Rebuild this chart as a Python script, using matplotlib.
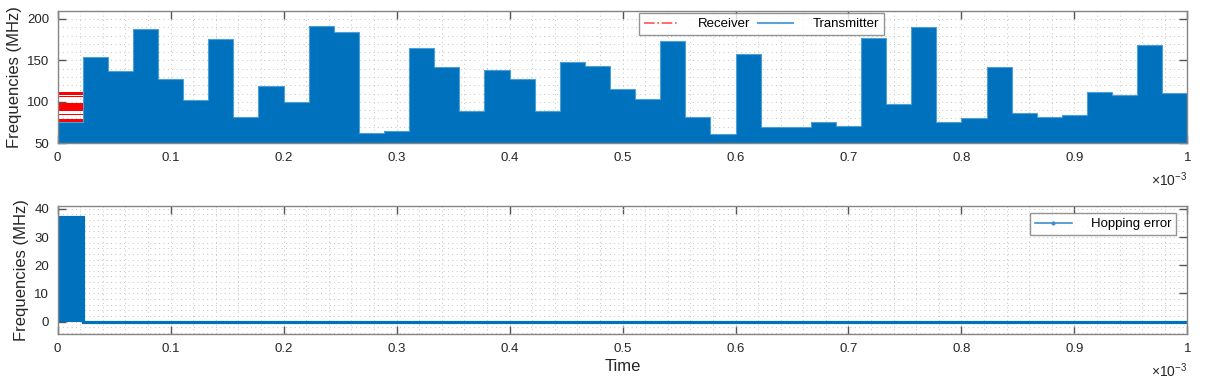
#!python3

"""
Frequency hopping: transmitter vs receiver frequencies and hopping error
45 hops over 1 ms
"""

import matplotlib
matplotlib.use('Agg')
import matplotlib.pyplot as plt
from matplotlib.lines import Line2D
from matplotlib.ticker import MultipleLocator, FuncFormatter
import numpy as np

plt.rcParams['font.family'] = ['Liberation Sans', 'DejaVu Sans']
plt.rcParams['mathtext.fontset'] = 'custom'
plt.rcParams['mathtext.rm'] = 'Liberation Sans'
plt.rcParams['mathtext.default'] = 'regular'

T_total = 1e-3    # s
n_hops = 45
t_hop = T_total / n_hops
edges = np.arange(n_hops + 1) * t_hop

# transmitter hop frequencies (MHz)
tx_freq = [76, 154.4, 137, 187.9, 127.7, 102.8, 175.4, 81.7, 119.7, 100,
           191.9, 184.7, 62.4, 64.8, 165.3, 141.5, 88.6, 138.7, 127.7, 88.6,
           147.6, 143.1, 114.9, 104, 173.7, 81.7, 60.8, 157.2, 69.2, 70,
           75.7, 70.4, 176.6, 97.9, 190.7, 75.7, 80.5, 141.5, 87, 81.7,
           84.6, 111.3, 108.4, 168.2, 110.8]

# receiver frequency bands seen during first hop (MHz)
rx_bands = [(108, 112), (105.5, 106.5), (89, 98.7), (83.8, 85.8), (76.1, 79.8)]

# hopping error (MHz)
hop_err = [37] + [0] * (n_hops - 1)

blue = '#0072BD'
blue_lt = '#4D9FD8'
red = '#FF0000'
txtc = '#262626'
axc = '#858585'

fig = plt.figure(figsize=(12.06, 3.88), dpi=100)
ax1 = fig.add_axes([0.0478, 0.6307, 0.9368, 0.3418])
ax2 = fig.add_axes([0.0478, 0.1384, 0.9368, 0.3314])


def style(ax):
    ax.set_axisbelow(True)
    ax.set_xlim(0, T_total)
    ax.xaxis.set_major_locator(MultipleLocator(1e-4))
    ax.xaxis.set_minor_locator(MultipleLocator(2e-5))
    ax.xaxis.set_major_formatter(FuncFormatter(lambda v, p: f'{v * 1e3:g}'))
    ax.tick_params(which='major', direction='in', length=5.5, width=1,
                   top=True, right=True, colors='#555555', labelcolor=txtc,
                   labelsize=9.5, pad=6)
    ax.tick_params(which='minor', length=0, top=True, right=True)
    ax.grid(which='both', color='#c4c4c4', linestyle=(0, (1, 3.5)), linewidth=0.7)
    for s in ax.spines.values():
        s.set_color(axc)
        s.set_linewidth(1)
    ax.set_ylabel('Frequencies (MHz)', fontsize=12, color=txtc, labelpad=4)
    ax.annotate(r'$\times10^{-3}$', xy=(1, 0), xycoords='axes fraction',
                xytext=(0, -26), textcoords='offset points',
                ha='right', va='center', fontsize=10, color=txtc)


# top: transmitter / receiver
ax1.stairs(tx_freq, edges, baseline=50, fill=True, color=blue)
ax1.stairs(tx_freq, edges, baseline=None, color=blue_lt, linewidth=0.8)
for lo, hi in rx_bands:
    ax1.fill_between([edges[0], edges[1]], lo, hi, color=red, linewidth=0)
ax1.set_ylim(50, 210)
ax1.yaxis.set_major_locator(MultipleLocator(50))
ax1.yaxis.set_minor_locator(MultipleLocator(10))
style(ax1)
h_rx = Line2D([], [], color='#FF5555', linestyle='-.', linewidth=1.2)
h_tx = Line2D([], [], color='#5BA3DA', linestyle='-', linewidth=1.5)
leg1 = ax1.legend([h_rx, h_tx], ['Receiver', 'Transmitter'], ncol=2,
                  loc='upper left', bbox_to_anchor=(0.515, 0.98), borderaxespad=0,
                  fontsize=9.5, handlelength=2.65, handletextpad=1.45,
                  columnspacing=0.6, borderpad=0.35, fancybox=False)
leg1.get_frame().set_edgecolor('#7a7a7a')
leg1.get_frame().set_linewidth(1)

# bottom: hopping error
ax2.stairs(hop_err, edges, baseline=0, fill=True, color=blue)
ax2.stairs(hop_err, edges, baseline=None, color=blue, linewidth=2.3)
ax2.set_ylim(-4.5, 41.1)
ax2.yaxis.set_major_locator(MultipleLocator(10))
ax2.yaxis.set_minor_locator(MultipleLocator(2))
style(ax2)
ax2.set_xlabel('Time', fontsize=12, color=txtc, labelpad=3)
h_err = Line2D([], [], color='#3E8FCC', linewidth=1.2, marker='.', markersize=4)
leg2 = ax2.legend([h_err], ['Hopping error'], loc='upper right',
                  bbox_to_anchor=(0.990, 0.941), borderaxespad=0, numpoints=1,
                  fontsize=9.5, handlelength=2.8, handletextpad=1.45,
                  borderpad=0.35, fancybox=False)
leg2.get_frame().set_edgecolor('#7a7a7a')
leg2.get_frame().set_linewidth(1)

fig.savefig('out.png', dpi=100)
